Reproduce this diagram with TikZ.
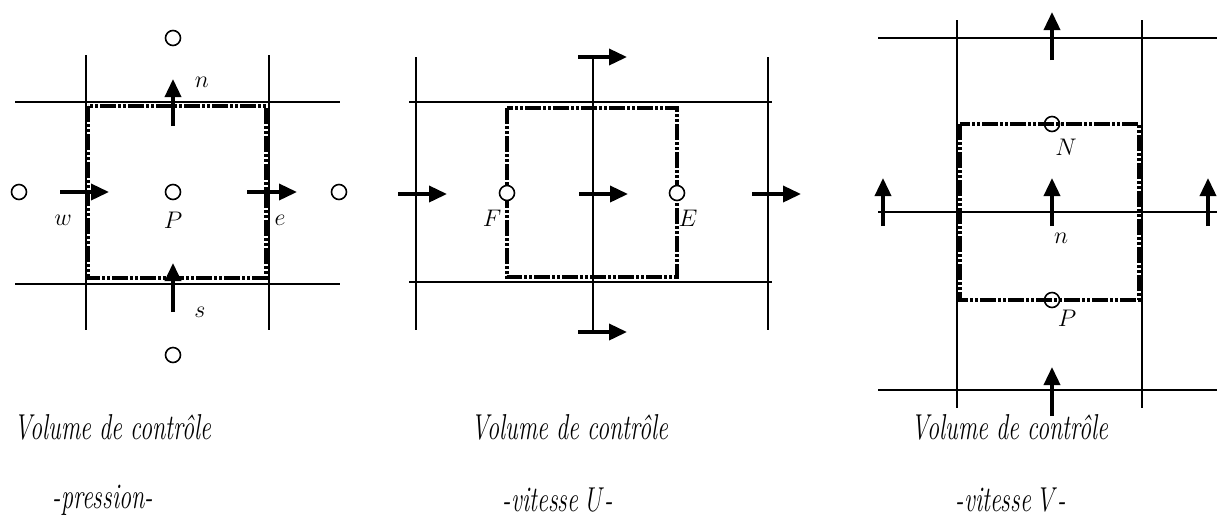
\documentclass[tikz,border=0pt]{standalone}
\usetikzlibrary{arrows.meta}
\begin{document}
\begin{tikzpicture}[x=0.5pt,y=-0.5pt,
  grid/.style={line width=0.7pt},
  cv/.style={line width=1.8pt,dash pattern=on 8pt off 1.2pt on 1.2pt off 1.2pt on 1.2pt off 1.2pt},
  vel/.style={line width=1.8pt,-{Triangle[length=9pt,width=8pt]}},
  pt/.style={circle,draw,line width=0.8pt,inner sep=0pt,minimum size=7.5pt},
  ptw/.style={pt,fill=white},
  lab/.style={font=\fontsize{12.5}{14}\selectfont},
  captext/.style={font=\itshape\fontsize{18}{20}\selectfont}]
\useasboundingbox (0,0) rectangle (1219,527);

% volume de controle -pression-
\draw[grid] (86,55) -- (86,330);
\draw[grid] (269,55) -- (269,330);
\draw[grid] (15,102) -- (340,102);
\draw[grid] (15,284) -- (340,284);
\draw[cv] (88,106) rectangle (266,278);
\node[pt] (pN) at (173,38) {};
\node[pt] (pS) at (173,355) {};
\node[pt] (pW) at (19,192) {};
\node[pt] (pE) at (339,192) {};
\node[pt] (pP) at (173,192) {};
\draw[vel] (173,126) -- (173,79);
\draw[vel] (173,312) -- (173,263);
\draw[vel] (60,192) -- (109,192);
\draw[vel] (247,192) -- (297,192);
\node[lab] (ln) at (202,82) {$n$};
\node[lab] (ls) at (200,312) {$s$};
\node[lab] (lw) at (63,220) {$w$};
\node[lab] (le) at (280,220) {$e$};
\node[lab] (lP) at (173,220) {$P$};

% volume de controle -vitesse U-
\draw[grid] (416,57) -- (416,330);
\draw[grid] (768,57) -- (768,330);
\draw[grid] (593,57) -- (593,332);
\draw[grid] (409,102) -- (772,102);
\draw[grid] (409,282) -- (772,282);
\draw[cv] (507,108) rectangle (677,277);
\node[ptw] (uF) at (507,193) {};
\node[ptw] (uE) at (677,193) {};
\draw[vel] (578,57) -- (627,57);
\draw[vel] (578,332) -- (627,332);
\draw[vel] (398,194) -- (447,194);
\draw[vel] (579,194) -- (628,194);
\draw[vel] (752,194) -- (801,194);
\node[lab] (lF) at (492,218) {$F$};
\node[lab] (lE) at (688,218) {$E$};

% volume de controle -vitesse V-
\draw[grid] (957,20) -- (957,408);
\draw[grid] (1142,20) -- (1142,408);
\draw[grid] (878,38) -- (1217,38);
\draw[grid] (878,212) -- (1217,212);
\draw[grid] (878,390) -- (1217,390);
\draw[cv] (960,124) rectangle (1139,300);
\node[pt] (vN) at (1052,124) {};
\node[pt] (vP) at (1052,300) {};
\draw[vel] (1052,60) -- (1052,12);
\draw[vel] (1052,226) -- (1052,178);
\draw[vel] (883,226) -- (883,178);
\draw[vel] (1208,226) -- (1208,178);
\draw[vel] (1052,416) -- (1052,367);
\node[lab] (lN) at (1066,147) {$N$};
\node[lab] (lnv) at (1061,238) {$n$};
\node[lab] (lPv) at (1067,318) {$P$};

% legendes
\node[captext] (capP) at (113,427) {\scalebox{0.67}[1]{Volume de contrôle}};
\node[captext] (capU) at (570,427) {\scalebox{0.67}[1]{Volume de contrôle}};
\node[captext] (capV) at (1010,427) {\scalebox{0.67}[1]{Volume de contrôle}};
\node[captext] (subP) at (103,500) {\scalebox{0.67}[1]{-pression-}};
\node[captext] (subU) at (558,500) {\scalebox{0.67}[1]{-vitesse $U$-}};
\node[captext] (subV) at (1011,500) {\scalebox{0.67}[1]{-vitesse $V$-}};
\end{tikzpicture}
\end{document}
